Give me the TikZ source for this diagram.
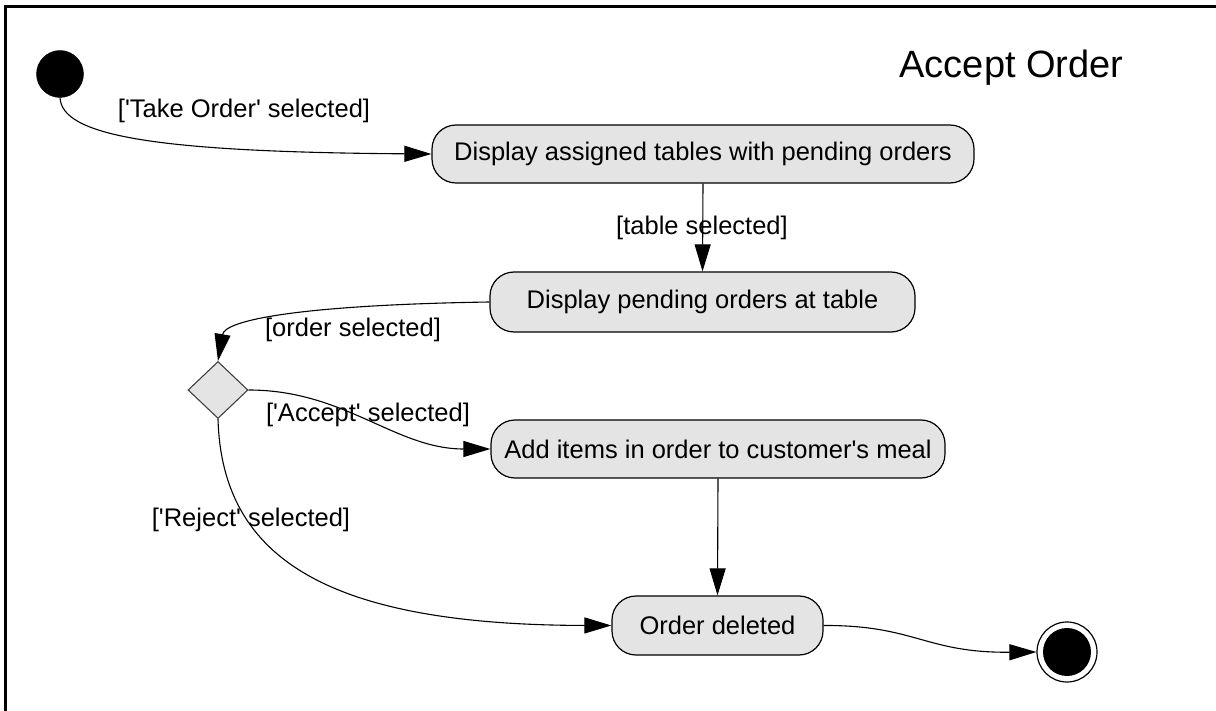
\documentclass[tikz,border=0pt]{standalone}
\usepackage{fontspec}
\setmainfont{Liberation Sans}
\usetikzlibrary{arrows.meta,shapes.geometric}

\definecolor{actfill}{RGB}{228,228,228}

\tikzset{
  activity/.style={draw=black, line width=1.2pt, fill=actfill, rounded corners=24pt,
    inner sep=0pt, align=center, font=\fontsize{25.5pt}{30pt}\selectfont},
  decision/.style={diamond, draw=black!75, line width=1.1pt, fill=actfill, inner sep=0pt,
    minimum width=60pt, minimum height=57pt},
  initial/.style={circle, fill=black, draw=black, inner sep=0pt, minimum size=47pt},
  finalring/.style={circle, fill=white, draw=black, line width=1.2pt, inner sep=0pt, minimum size=60pt},
  finaldot/.style={circle, fill=black, inner sep=0pt, minimum size=48pt},
  flow/.style={draw=black, line width=1.1pt, -{Triangle[length=27pt,width=16pt]}},
  guard/.style={font=\fontsize{25.5pt}{30pt}\selectfont, inner sep=0pt},
  caption/.style={font=\fontsize{38pt}{44pt}\selectfont, inner sep=0pt}
}

% straight apostrophe
\newcommand{\apos}{\textquotesingle}

\begin{document}
\begin{tikzpicture}[x=1pt, y=-1pt]
  \useasboundingbox (0,0) rectangle (1216,711);

  % frame edges (left and top)
  \draw[line width=3pt] (5.5,711) -- (5.5,6.5) -- (1216,6.5);

  % title
  \node[caption] (title) at (1011.5,68) {Accept Order};

  % nodes
  \node[initial] (start) at (60,74) {};
  \node[activity, minimum width=542pt, minimum height=58pt] (n1) at (703,154)
    {Display assigned tables with pending orders};
  \node[activity, minimum width=425pt, minimum height=60pt] (n2) at (702.5,302)
    {Display pending orders at table};
  \node[decision] (dec) at (218,390) {};
  \node[activity, minimum width=454pt, minimum height=58pt] (n3) at (718,449)
    {Add items in order to customer\apos s meal};
  \node[activity, minimum width=211pt, minimum height=59pt] (n4) at (717.5,625.5)
    {Order deleted};
  \node[finalring] (stop) at (1067,652) {};
  \node[finaldot] (stopdot) at (stop.center) {};

  % flows
  \draw[flow] (start.south) .. controls (62,135) and (150,152) .. (n1.west);
  \draw[flow] (n1.south) -- (n2.north);
  \draw[flow] (n2.west) .. controls (300,305) and (225,320) .. (dec.north);
  \draw[flow] (dec.east) .. controls (345,390) and (395,449) .. (n3.west);
  \draw[flow] (dec.south) .. controls (222,560) and (330,625) .. (n4.west);
  \draw[flow] (n3.south) -- (n4.north);
  \draw[flow] (n4.east) .. controls (915,625) and (925,653) .. (stop.west);

  % guards
  \node[guard] (g1) at (244,111) {[\apos Take Order\apos\ selected]};
  \node[guard] (g2) at (702,228) {[table selected]};
  \node[guard] (g3) at (353,330) {[order selected]};
  \node[guard] (g4) at (368,415) {[\apos Accept\apos\ selected]};
  \node[guard] (g5) at (251,520) {[\apos Reject\apos\ selected]};
\end{tikzpicture}
\end{document}
